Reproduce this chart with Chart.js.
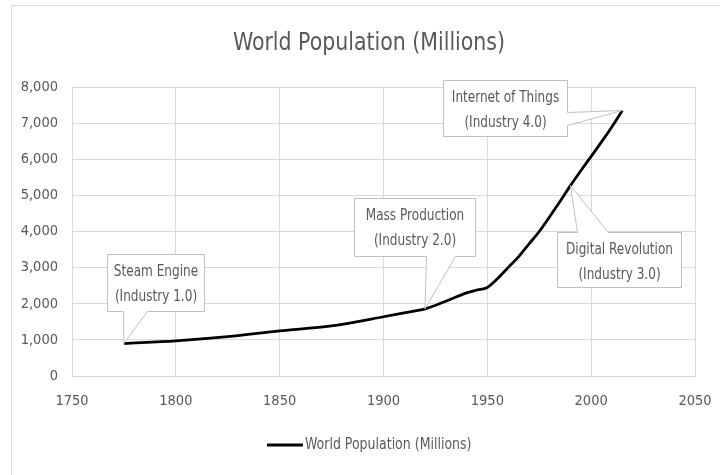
<!DOCTYPE html>
<html>
<head>
<meta charset="utf-8">
<script src="https://cdn.jsdelivr.net/npm/chart.js@4/dist/chart.umd.min.js"></script>
<style>
  html, body { margin: 0; padding: 0; background: #fff; overflow: hidden; }
  #wrap { position: relative; width: 720px; height: 475px; }
</style>
</head>
<body>
<div id="wrap"><canvas id="js--chart--1" width="720" height="475"></canvas></div>
<script>
// chart data
const titleText = "World Population (Millions)";
const seriesName = "World Population (Millions)";
const years = [1775, 1800, 1825, 1850, 1875, 1900, 1910, 1920, 1930, 1940, 1945, 1950, 1955, 1960,
  1965, 1970, 1975, 1980, 1985, 1990, 1995, 2000, 2005, 2010, 2015];
const population = [900, 975, 1090, 1250, 1390, 1640, 1750, 1860, 2070, 2300, 2380, 2450, 2700, 3000,
  3300, 3650, 4000, 4410, 4830, 5270, 5680, 6080, 6480, 6900, 7350];
const xTicks = [1750, 1800, 1850, 1900, 1950, 2000, 2050];
const yTicks = [0, 1000, 2000, 3000, 4000, 5000, 6000, 7000, 8000];
const calloutYears = [1775, 1920, 1990, 2015];
const calloutLabels = [
  ["Steam Engine", "(Industry 1.0)"],
  ["Mass Production", "(Industry 2.0)"],
  ["Digital Revolution", "(Industry 3.0)"],
  ["Internet of Things", "(Industry 4.0)"],
];

const FONT = "'Liberation Sans Narrow', 'DejaVu Sans Condensed', sans-serif";
const TEXT = "#595959";
const GRID = "#d9d9d9";

Chart.defaults.font.family = FONT;
Chart.defaults.color = TEXT;

// where each callout box sits relative to its point
const calloutPlacement = [
  { dx: -17, dy: -89, w: 97, h: 57, side: "bottom", b1: 16, b2: 40 },
  { dx: -71, dy: -111, w: 121, h: 58, side: "bottom", b1: 72, b2: 101 },
  { dx: -13, dy: 46, w: 124, h: 55, side: "top", b1: 20, b2: 51 },
  { dx: -179, dy: -30, w: 124, h: 56, side: "right", b1: 32, b2: 45 },
];

// condensed text, the reference font is narrower than what we have
function narrowText(ctx, str, x, y, size, sx) {
  ctx.save();
  ctx.font = size + "px " + FONT;
  ctx.translate(x, y);
  ctx.scale(sx, 1);
  ctx.fillText(str, 0, 0);
  ctx.restore();
}

const frameAndText = {
  id: "frameAndText",
  beforeDraw(chart) {
    const ctx = chart.ctx;
    ctx.save();
    ctx.strokeStyle = GRID;
    ctx.lineWidth = 1;
    ctx.strokeRect(11.5, 5.5, 720, 480);
    ctx.restore();
  },
  afterDraw(chart) {
    const ctx = chart.ctx;
    ctx.save();
    ctx.fillStyle = TEXT;
    ctx.textAlign = "center";
    ctx.textBaseline = "middle";
    narrowText(ctx, titleText, 369, 44, 24, 0.95);

    // legend
    ctx.strokeStyle = "#000";
    ctx.lineWidth = 3;
    ctx.beginPath();
    ctx.moveTo(267, 445);
    ctx.lineTo(303, 445);
    ctx.stroke();
    ctx.textAlign = "left";
    narrowText(ctx, seriesName, 305, 445, 15, 0.93);
    ctx.restore();
  }
};

const callouts = {
  id: "callouts",
  afterDatasetsDraw(chart) {
    const ctx = chart.ctx;
    const xs = chart.scales.x, ys = chart.scales.y;
    ctx.save();
    calloutYears.forEach((yr, i) => {
      const idx = years.indexOf(yr);
      const ax = xs.getPixelForValue(yr);
      const ay = ys.getPixelForValue(population[idx]);
      const p = calloutPlacement[i];
      const x = Math.round(ax + p.dx) + 0.5;
      const y = Math.round(ay + p.dy) + 0.5;
      const w = p.w, h = p.h;
      ctx.beginPath();
      ctx.moveTo(x, y);
      if (p.side === "top") {
        ctx.lineTo(x + p.b1, y);
        ctx.lineTo(ax, ay);
        ctx.lineTo(x + p.b2, y);
      }
      ctx.lineTo(x + w, y);
      if (p.side === "right") {
        ctx.lineTo(x + w, y + p.b1);
        ctx.lineTo(ax, ay);
        ctx.lineTo(x + w, y + p.b2);
      }
      ctx.lineTo(x + w, y + h);
      if (p.side === "bottom") {
        ctx.lineTo(x + p.b2, y + h);
        ctx.lineTo(ax, ay);
        ctx.lineTo(x + p.b1, y + h);
      }
      ctx.lineTo(x, y + h);
      ctx.closePath();
      ctx.fillStyle = "#fff";
      ctx.fill();
      ctx.strokeStyle = "#bfbfbf";
      ctx.lineWidth = 1;
      ctx.stroke();

      ctx.fillStyle = TEXT;
      ctx.textAlign = "center";
      ctx.textBaseline = "middle";
      const lines = calloutLabels[i];
      narrowText(ctx, lines[0], x + w / 2, y + 17, 16, 0.84);
      narrowText(ctx, lines[1], x + w / 2, y + 42, 16, 0.84);
    });
    ctx.restore();
  }
};

const config = {
  type: "line",
  data: {
    datasets: [{
      label: seriesName,
      data: years.map((yr, i) => ({ x: yr, y: population[i] })),
      borderColor: "#000",
      borderWidth: 2.75,
      pointRadius: 0,
      cubicInterpolationMode: "monotone",
      fill: false,
    }]
  },
  options: {
    responsive: false,
    animation: false,
    layout: { padding: { top: 87, left: 0, right: 25, bottom: 59 } },
    plugins: {
      legend: { display: false },
      title: { display: false },
      tooltip: { enabled: false },
    },
    scales: {
      x: {
        type: "linear",
        min: xTicks[0],
        max: xTicks[xTicks.length - 1],
        afterBuildTicks: (s) => { s.ticks = xTicks.map(v => ({ value: v })); },
        afterFit: (s) => { s.height = 40; s.paddingLeft = 0; s.paddingRight = 0; },
        grid: { color: GRID, drawTicks: false },
        border: { color: GRID },
        ticks: {
          padding: 17,
          font: { size: 14.5 },
          color: TEXT,
          maxRotation: 0,
          callback: (v) => String(v),
        },
      },
      y: {
        min: yTicks[0],
        max: yTicks[yTicks.length - 1],
        afterBuildTicks: (s) => { s.ticks = yTicks.map(v => ({ value: v })); },
        afterFit: (s) => { s.width = 72; s.paddingTop = 0; s.paddingBottom = 0; },
        grid: { color: GRID, drawTicks: false },
        border: { color: GRID },
        ticks: {
          padding: 14,
          font: { size: 14.5 },
          color: TEXT,
          callback: (v) => v.toLocaleString("en-US"),
        },
      },
    },
  },
  plugins: [frameAndText, callouts],
};

const myChart = new Chart(document.getElementById("js--chart--1"), config);
</script>
</body>
</html>
